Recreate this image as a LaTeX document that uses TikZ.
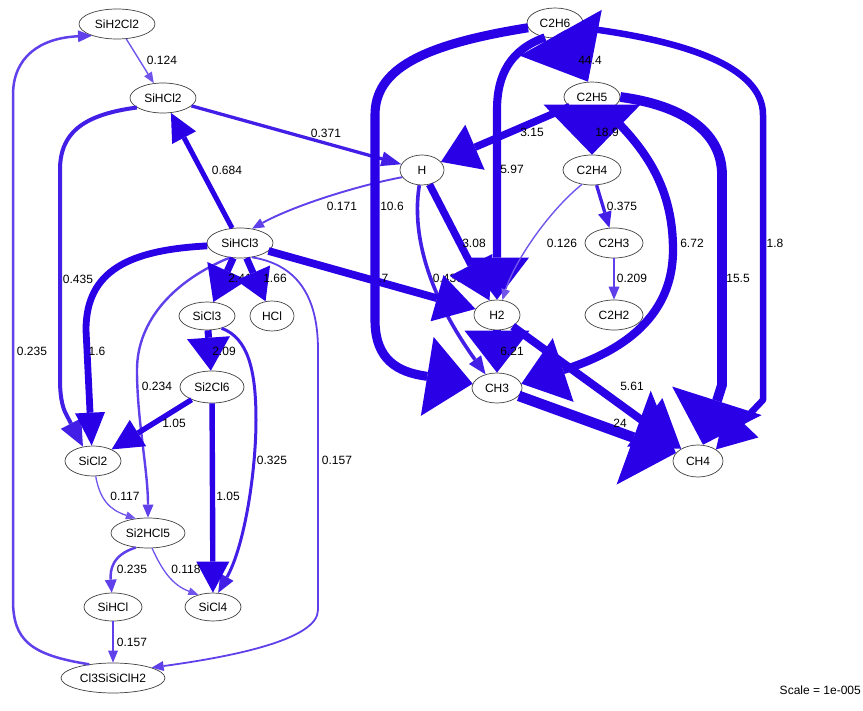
\documentclass[tikz,border=0pt]{standalone}
\usepackage{fontspec}
\setmainfont{Liberation Sans}
\usetikzlibrary{arrows.meta,shapes.geometric}
\definecolor{cA}{RGB}{112,84,236}
\definecolor{cB}{RGB}{96,64,234}
\definecolor{cC}{RGB}{66,30,230}
\definecolor{cD}{RGB}{42,0,230}
\begin{document}
\begin{tikzpicture}[x=1pt,y=-1pt,
  nd/.style={ellipse, draw=black!75, line width=0.7pt, fill=white, inner sep=0pt, font=\fontsize{12}{14}\selectfont},
  lb/.style={inner sep=0pt, font=\fontsize{12}{14}\selectfont, text=black},
  ed/.style n args={4}{line width=#1pt, color=#2, line join=round, -{Triangle[length=#3pt,width=#4pt,line width=0pt]}}
]
\useasboundingbox (0,0) rectangle (863,711);
% nodes
\node[nd, minimum width=76pt, minimum height=30pt] (SiH2Cl2) at (117,24) {SiH2Cl2};
\node[nd, minimum width=66pt, minimum height=30pt] (SiHCl2) at (163,98) {SiHCl2};
\node[nd, minimum width=44pt, minimum height=30pt] (H) at (422,170) {H};
\node[nd, minimum width=66pt, minimum height=30pt] (SiHCl3) at (240,243) {SiHCl3};
\node[nd, minimum width=56pt, minimum height=28pt] (SiCl3) at (207,316) {SiCl3};
\node[nd, minimum width=44pt, minimum height=30pt] (HCl) at (272,316) {HCl};
\node[nd, minimum width=64pt, minimum height=32pt] (Si2Cl6) at (212,387) {Si2Cl6};
\node[nd, minimum width=56pt, minimum height=30pt] (SiCl2) at (93,461) {SiCl2};
\node[nd, minimum width=74pt, minimum height=30pt] (Si2HCl5) at (148,533) {Si2HCl5};
\node[nd, minimum width=58pt, minimum height=28pt] (SiHCl) at (113,607) {SiHCl};
\node[nd, minimum width=56pt, minimum height=28pt] (SiCl4) at (213,607) {SiCl4};
\node[nd, minimum width=104pt, minimum height=30pt] (Cl3SiSiClH2) at (113,678) {Cl3SiSiClH2};
\node[nd, minimum width=56pt, minimum height=30pt] (C2H6) at (555,23) {C2H6};
\node[nd, minimum width=56pt, minimum height=30pt] (C2H5) at (592,97) {C2H5};
\node[nd, minimum width=58pt, minimum height=30pt] (C2H4) at (592,170) {C2H4};
\node[nd, minimum width=58pt, minimum height=30pt] (C2H3) at (614,243) {C2H3};
\node[nd, minimum width=58pt, minimum height=30pt] (C2H2) at (614,315) {C2H2};
\node[nd, minimum width=46pt, minimum height=30pt] (H2) at (497,315) {H2};
\node[nd, minimum width=50pt, minimum height=30pt] (CH3) at (497,388) {CH3};
\node[nd, minimum width=50pt, minimum height=32pt] (CH4) at (698,461) {CH4};
% edges, left part
\draw[ed={1.4}{cA}{11}{9}] (SiH2Cl2) -- (SiHCl2);
\node[lb] (l1) at (162,60) {0.124};
\draw[ed={1.9}{cB}{12}{10}] (H.200) .. controls (360,185) and (295,205) .. (SiHCl3.50);
\node[lb] (l4) at (342,206) {0.171};
\draw[ed={3.3}{cC}{20}{15}] (SiHCl2) -- (H);
\node[lb] (l2) at (326,133) {0.371};
\draw[ed={5}{cD}{28}{27}] (SiHCl3) -- (SiHCl2);
\node[lb] (l3) at (227,170) {0.684};
\draw[ed={4}{cC}{26}{23}] (SiHCl2.200) .. controls (80,115) and (60,135) .. (60,170) -- (60,380) .. controls (60,395) and (62,405) .. (65,412) -- (SiCl2.125);
\node[lb] (l5) at (78,279) {0.435};
\draw[ed={6.8}{cD}{33}{30}] (SiHCl3.185) .. controls (130,250) and (86,270) .. (86,330) -- (SiCl2.95);
\node[lb] (l6) at (97,351) {1.6};
\draw[ed={2.4}{cB}{13}{11}] (SiHCl3.235) .. controls (175,280) and (137,320) .. (137,370) .. controls (137,420) and (148,470) .. (Si2HCl5.north);
\node[lb] (l10) at (157,386) {0.234};
\draw[ed={1.8}{cB}{12}{10}] (SiHCl3.310) .. controls (300,265) and (318,300) .. (318,350) -- (318,610) .. controls (318,640) and (230,657) .. (Cl3SiSiClH2.15);
\node[lb] (l11) at (337,460) {0.157};
\draw[ed={2.5}{cB}{14}{12}] (Cl3SiSiClH2.150) .. controls (30,655) and (13,640) .. (13,600) -- (13,95) .. controls (13,57) and (40,38) .. (SiH2Cl2.205);
\node[lb] (l12) at (32,351) {0.235};
\draw[ed={7}{cD}{34}{44}] (SiHCl3) -- (SiCl3);
\node[lb] (l7) at (240,278) {2.41};
\draw[ed={6.8}{cD}{31}{37}] (SiHCl3) -- (HCl);
\node[lb] (l8) at (275,278) {1.66};
\draw[ed={7}{cD}{33}{43}] (SiCl3) -- (Si2Cl6);
\node[lb] (l13) at (224,351) {2.09};
\draw[ed={3.0}{cC}{18}{15}] (SiCl3.320) .. controls (248,338) and (256,370) .. (256,420) .. controls (256,470) and (245,545) .. (SiCl4.70);
\node[lb] (l14) at (272,460) {0.325};
\draw[ed={5.4}{cD}{31}{31}] (Si2Cl6) -- (SiCl2);
\node[lb] (l15) at (174,423) {1.05};
\draw[ed={5.4}{cD}{31}{33}] (Si2Cl6) -- (SiCl4);
\node[lb] (l16) at (228,496) {1.05};
\draw[ed={1.3}{cA}{10}{8}] (SiCl2.280) .. controls (100,500) and (110,510) .. (Si2HCl5.130);
\node[lb] (l17) at (125,496) {0.117};
\draw[ed={2.5}{cB}{13}{12}] (Si2HCl5.230) .. controls (112,555) and (110,570) .. (SiHCl.95);
\node[lb] (l18) at (132,569) {0.235};
\draw[ed={1.3}{cA}{10}{8}] (Si2HCl5.285) .. controls (162,570) and (172,585) .. (SiCl4.140);
\node[lb] (l19) at (186,569) {0.118};
\draw[ed={1.8}{cB}{12}{10}] (SiHCl) -- (Cl3SiSiClH2);
\node[lb] (l20) at (132,642) {0.157};
% edges, right part
\draw[ed={3.6}{cC}{18}{15}] (H.260) .. controls (412,230) and (425,290) .. (CH3.130);
\node[lb] (l30) at (448,278) {0.436};
\draw[ed={7.7}{cD}{40}{48}] (SiHCl3) -- (H2);
\node[lb] (l9) at (380,278) {4.7};
\draw[ed={9.1}{cD}{46}{80}] (C2H6.190) .. controls (420,45) and (375,70) .. (375,115) -- (375,320) .. controls (375,360) and (398,372) .. (425,376) -- (CH3.170);
\node[lb] (l25) at (392,206) {10.6};
\draw[ed={8.1}{cD}{42}{64}] (C2H6.235) .. controls (510,50) and (497,75) .. (497,110) -- (H2.north);
\node[lb] (l24) at (512,169) {5.97};
\draw[ed={7.4}{cD}{40}{48}] (H) -- (H2);
\node[lb] (l29) at (474,243) {3.08};
\draw[ed={1.4}{cA}{11}{9}] (C2H4.235) .. controls (550,210) and (515,260) .. (H2.70);
\node[lb] (l31) at (562,243) {0.126};
\draw[ed={7.4}{cD}{37}{49}] (C2H5) -- (H);
\node[lb] (l22) at (532,132) {3.15};
\draw[ed={3.3}{cC}{16}{14}] (C2H4) -- (C2H3);
\node[lb] (l32) at (622,206) {0.375};
\draw[ed={2.3}{cB}{13}{11}] (C2H3) -- (C2H2);
\node[lb] (l33) at (632,278) {0.209};
\draw[ed={6.5}{cD}{38}{45}] (C2H6.350) .. controls (680,40) and (763,65) .. (763,115) -- (763,400) -- (CH4.north east);
\node[lb] (l26) at (775,243) {1.8};
\draw[ed={9.8}{cD}{46}{94}] (C2H5.east) .. controls (680,105) and (722,130) .. (722,175) -- (722,385) -- ([xshift=5pt]CH4.north);
\node[lb] (l27) at (738,278) {15.5};
\draw[ed={8.3}{cD}{44}{67}] (C2H5.315) .. controls (648,150) and (673,190) .. (673,250) .. controls (673,330) and (600,358) .. (CH3.10);
\node[lb] (l28) at (692,243) {6.72};
\draw[ed={8}{cD}{45}{60}] (H2) -- (CH4);
\node[lb] (l36) at (632,386) {5.61};
\draw[ed={10.5}{cD}{45}{100}] (CH3) -- (CH4);
\node[lb] (l35) at (620,423) {24};
\draw[ed={8.2}{cD}{42}{65}] (H2) -- (CH3);
\node[lb] (l34) at (512,351) {6.21};
\draw[ed={10.1}{cD}{50}{97}] (C2H5) -- (C2H4);
\node[lb] (l23) at (607,132) {18.9};
\draw[ed={11.6}{cD}{56}{94}] (C2H6.300) -- ([xshift=-4pt]C2H5.north);
\node[lb] (l21) at (590,60) {44.4};
\node[lb, anchor=east] (scale) at (861,690) {Scale = 1e-005};
\end{tikzpicture}
\end{document}
